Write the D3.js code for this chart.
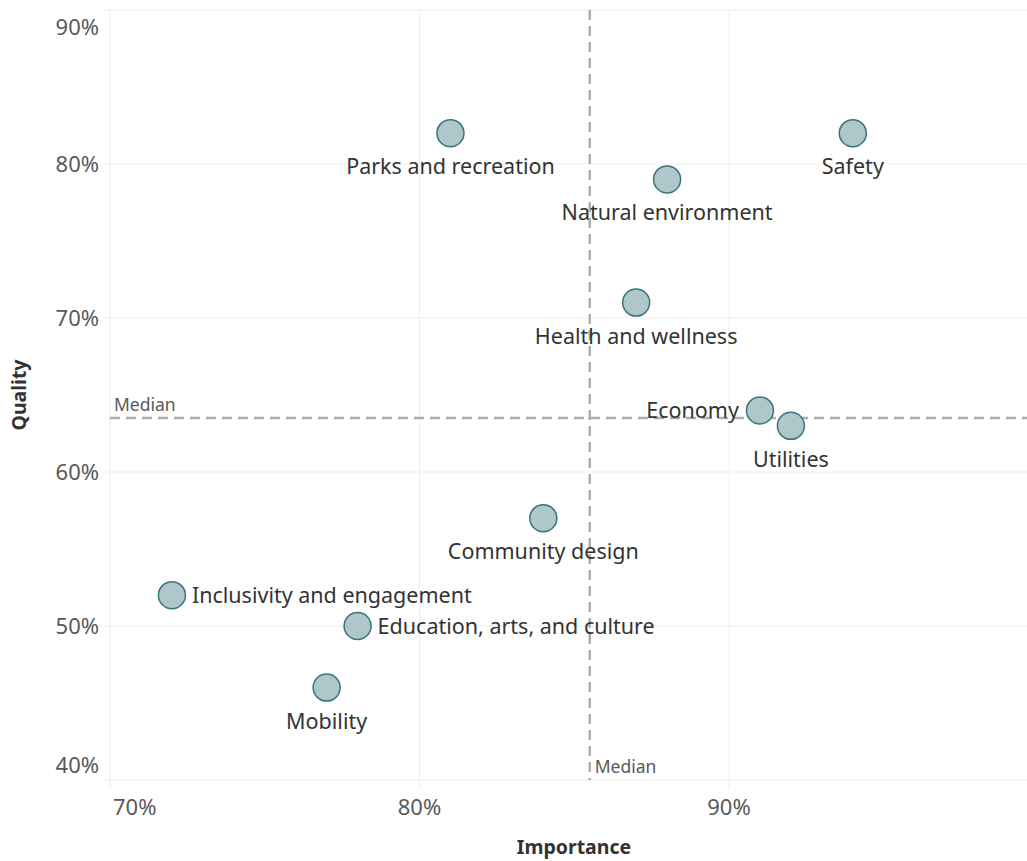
<!DOCTYPE html>
<html>
<head>
<meta charset="utf-8">
<script src="https://cdn.jsdelivr.net/npm/d3@7"></script>
<style>
  body { margin: 0; background: #fff; }
  svg { display: block; font-family: "Noto Sans", "Open Sans", sans-serif; }
  .tick-label { fill: #595959; font-size: 22px; }
  .axis-title { fill: #333; font-size: 19.5px; font-weight: bold; }
  .point-label { fill: #333; font-size: 21.5px; }
  .median-label { fill: #595959; font-size: 17.5px; }
</style>
</head>
<body>
<div id="chart"></div>
<script>
// categories and values
const categories = [
  "Parks and recreation", "Safety", "Natural environment", "Health and wellness",
  "Economy", "Utilities", "Community design", "Inclusivity and engagement",
  "Education, arts, and culture", "Mobility"
];
const importance = [0.81, 0.94, 0.88, 0.87, 0.91, 0.92, 0.84, 0.72, 0.78, 0.77];
const quality    = [0.82, 0.82, 0.79, 0.71, 0.64, 0.63, 0.57, 0.52, 0.50, 0.46];
// where the label sits relative to its point
const labelSide  = ["below", "below", "below", "below", "left", "below", "below", "right", "right", "below"];

const xTicks = [0.7, 0.8, 0.9];
const yTicks = [0.4, 0.5, 0.6, 0.7, 0.8, 0.9];

const W = 1027, H = 861;
const plot = { left: 110, right: 1027, top: 10, bottom: 780 };

const x = d3.scaleLinear().domain([0.7, 0.8]).range([plot.left, 419.5]);
const y = d3.scaleLinear().domain([0.4, 0.9]).range([plot.bottom, plot.top]);

const svg = d3.select("#chart").append("svg")
  .attr("width", W).attr("height", H);

const fmt = d3.format(".0%");

// gridlines
const grid = svg.append("g");
grid.selectAll(".gx")
  .data(xTicks.slice(1))
  .join("line")
  .attr("x1", d => x(d)).attr("x2", d => x(d))
  .attr("y1", plot.top).attr("y2", plot.bottom + 8)
  .attr("stroke", "#efefef").attr("stroke-width", 1);
grid.selectAll(".gy")
  .data(yTicks.slice(1))
  .join("line")
  .attr("x1", plot.left - 7).attr("x2", plot.right)
  .attr("y1", d => y(d)).attr("y2", d => y(d))
  .attr("stroke", "#efefef").attr("stroke-width", 1);

// axis lines
svg.append("line")
  .attr("x1", plot.left).attr("x2", plot.left)
  .attr("y1", plot.top).attr("y2", plot.bottom + 8)
  .attr("stroke", "#ececec");
svg.append("line")
  .attr("x1", plot.left - 7).attr("x2", plot.right)
  .attr("y1", plot.bottom).attr("y2", plot.bottom)
  .attr("stroke", "#ececec");

// tick labels (end labels are pulled inside the plot like Tableau does)
svg.selectAll(".xt")
  .data(xTicks)
  .join("text")
  .attr("class", "tick-label")
  .attr("x", (d, i) => i === 0 ? x(d) + 3 : x(d))
  .attr("y", 815)
  .attr("text-anchor", (d, i) => i === 0 ? "start" : "middle")
  .text(fmt);

const yLast = yTicks.length - 1;
svg.selectAll(".yt")
  .data(yTicks)
  .join("text")
  .attr("class", "tick-label")
  .attr("x", 99)
  .attr("y", (d, i) => i === yLast ? y(d) + 25 : i === 0 ? y(d) - 7 : y(d) + 8)
  .attr("text-anchor", "end")
  .text(fmt);

// axis titles
svg.append("text").attr("class", "axis-title")
  .attr("x", 574).attr("y", 854)
  .attr("text-anchor", "middle")
  .text("Importance");
svg.append("text").attr("class", "axis-title")
  .attr("transform", `translate(26,${(plot.top + plot.bottom) / 2}) rotate(-90)`)
  .attr("text-anchor", "middle")
  .text("Quality");

// median reference lines
const medX = d3.median(importance);
const medY = d3.median(quality);

svg.append("line")
  .attr("x1", x(medX)).attr("x2", x(medX))
  .attr("y1", plot.top).attr("y2", plot.bottom)
  .attr("stroke", "#adadad").attr("stroke-width", 2.5)
  .attr("stroke-dasharray", "10,6");
svg.append("line")
  .attr("x1", plot.left).attr("x2", plot.right)
  .attr("y1", y(medY)).attr("y2", y(medY))
  .attr("stroke", "#adadad").attr("stroke-width", 2.5)
  .attr("stroke-dasharray", "10,6");

svg.append("text").attr("class", "median-label")
  .attr("x", x(medX) + 5).attr("y", plot.bottom - 7)
  .text("Median");
svg.append("text").attr("class", "median-label")
  .attr("x", plot.left + 4).attr("y", y(medY) - 7)
  .text("Median");

// points
const data = categories.map((c, i) => ({
  name: c, imp: importance[i], qual: quality[i], side: labelSide[i]
}));

svg.append("g").selectAll("circle")
  .data(data)
  .join("circle")
  .attr("cx", d => x(d.imp))
  .attr("cy", d => y(d.qual))
  .attr("r", 13.5)
  .attr("fill", "#afc6ca")
  .attr("stroke", "#3a737c")
  .attr("stroke-width", 1.5);

svg.append("g").selectAll("text")
  .data(data)
  .join("text")
  .attr("class", "point-label")
  .attr("x", d => d.side === "left" ? x(d.imp) - 21 : d.side === "right" ? x(d.imp) + 20 : x(d.imp))
  .attr("y", d => d.side === "below" ? y(d.qual) + 41 : y(d.qual) + 8)
  .attr("text-anchor", d => d.side === "left" ? "end" : d.side === "right" ? "start" : "middle")
  .text(d => d.name);
</script>
</body>
</html>
